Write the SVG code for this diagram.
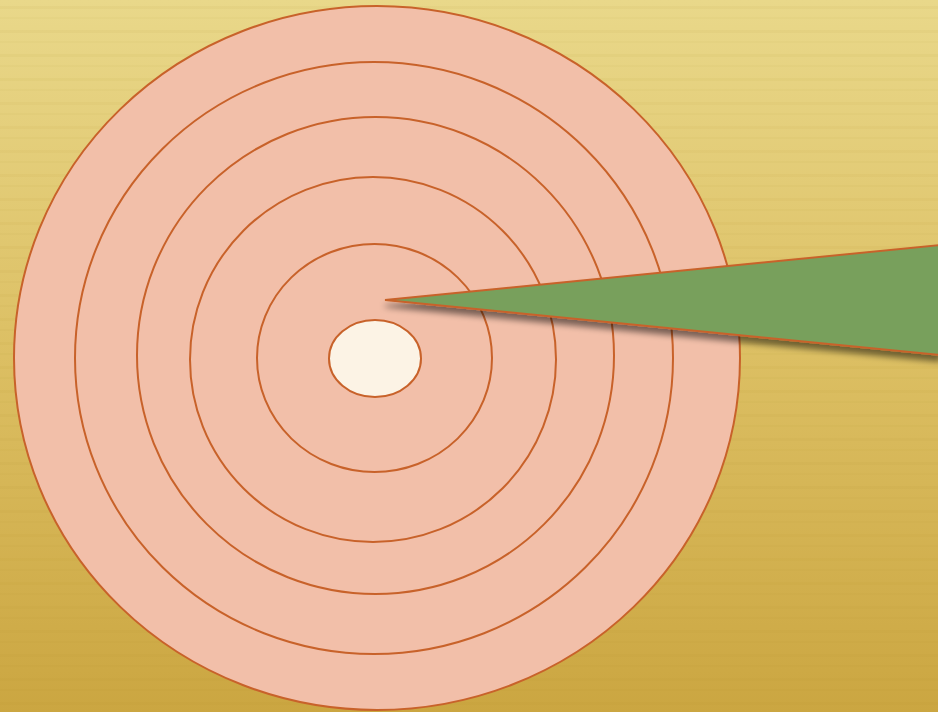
<svg xmlns="http://www.w3.org/2000/svg" width="938" height="712" viewBox="0 0 938 712">
<defs>
<linearGradient id="bg" x1="0" y1="0" x2="0" y2="1">
<stop offset="0" stop-color="#e9d88a"/>
<stop offset="0.5" stop-color="#dcbf63"/>
<stop offset="1" stop-color="#cba641"/>
</linearGradient>
<pattern id="stripes" x="0" y="0" width="938" height="24" patternUnits="userSpaceOnUse">
<rect x="0" y="6" width="938" height="3" fill="#a08020" opacity="0.06"/>
<rect x="0" y="17" width="938" height="2" fill="#a08020" opacity="0.04"/>
</pattern>
<filter id="sh" x="-10%" y="-30%" width="130%" height="180%">
<feGaussianBlur in="SourceAlpha" stdDeviation="3"/>
<feOffset dx="0" dy="6" result="b"/>
<feComponentTransfer><feFuncA type="linear" slope="0.5"/></feComponentTransfer>
<feMerge><feMergeNode/><feMergeNode in="SourceGraphic"/></feMerge>
</filter>
<style>
.ring{fill:#f2bfa9;stroke:#c8622a;stroke-width:2}
</style>
</defs>
<rect width="938" height="712" fill="url(#bg)"/>
<rect width="938" height="712" fill="url(#stripes)"/>
<g id="target">
<ellipse class="ring" cx="377" cy="358" rx="363" ry="352"/>
<ellipse class="ring" cx="374" cy="358" rx="299" ry="296"/>
<ellipse class="ring" cx="375.5" cy="355.5" rx="238.5" ry="238.5"/>
<ellipse class="ring" cx="373" cy="359.5" rx="183" ry="182.5"/>
<ellipse class="ring" cx="374.5" cy="358" rx="117.5" ry="114"/>
<ellipse cx="375" cy="358.5" rx="46" ry="38.5" fill="#fcf3e5" stroke="#c8622a" stroke-width="2"/>
</g>
<g id="dart" filter="url(#sh)">
<polygon points="385,300 940,245 940,355" fill="#78a05c" stroke="#c8622a" stroke-width="2" stroke-linejoin="miter"/>
</g>
</svg>
